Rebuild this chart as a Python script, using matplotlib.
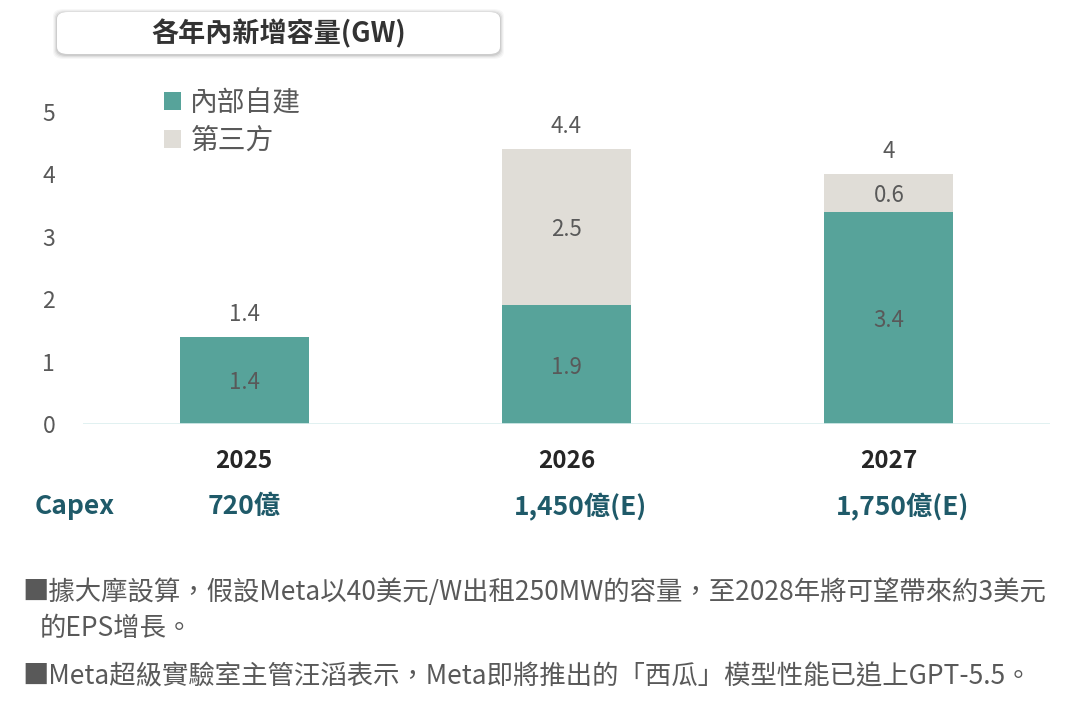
import matplotlib.pyplot as plt
from matplotlib.patches import FancyBboxPatch
import numpy as np

plt.rcParams['font.family'] = ['Noto Sans CJK TC', 'DejaVu Sans']

years = ["2025", "2026", "2027"]
internal = [1.4, 1.9, 3.4]
third_party = [0.0, 2.5, 0.6]
totals = ["1.4", "4.4", "4"]
capex = ["720億", "1,450億(E)", "1,750億(E)"]
series_names = ["內部自建", "第三方"]
title = "各年內新增容量(GW)"
notes = [
    "■據大摩設算，假設Meta以40美元/W出租250MW的容量，至2028年將可望帶來約3美元",
    "的EPS增長。",
    "■Meta超級實驗室主管汪滔表示，Meta即將推出的「西瓜」模型性能已追上GPT-5.5。",
]

W, H = 1077, 718
teal = "#57A39A"
light = "#E0DDD7"
gray = "#595959"
dark_teal = "#1F5A69"

fig = plt.figure(figsize=(W / 100, H / 100), dpi=100)
ax = fig.add_axes([83 / W, 1 - 424 / H, (1050 - 83) / W, 5.5 * 62.4 / H])

x = np.arange(len(years))
ax.bar(x, internal, width=0.4, color=teal, label=series_names[0])
ax.bar(x, third_party, width=0.4, bottom=internal, color=light, label=series_names[1])

for i in range(len(years)):
    ax.text(x[i], internal[i] / 2, f"{internal[i]:g}", ha="center",
            va="center_baseline", fontsize=16, color=gray)
    if third_party[i] > 0:
        ax.text(x[i], internal[i] + third_party[i] / 2, f"{third_party[i]:g}",
                ha="center", va="center_baseline", fontsize=16, color=gray)
    ax.annotate(totals[i], (x[i], internal[i] + third_party[i]), xytext=(0, 8),
                textcoords="offset points", ha="center", va="bottom",
                fontsize=16, color=gray)

ax.set_xlim(-0.5, 2.5)
ax.set_ylim(0, 5.5)
ax.set_yticks(range(6))
ax.tick_params(axis="y", length=0, pad=20, labelsize=16.5, labelcolor=gray)
ax.set_xticks(x)
ax.set_xticklabels(years, fontsize=17.5, fontweight="bold", color="#262626")
ax.tick_params(axis="x", length=0, pad=18)
for s in ax.spines.values():
    s.set_visible(False)
ax.axhline(0, color="#DCEFEF", lw=1.2)

ax.legend(loc="upper left", bbox_to_anchor=(164 / W, 1 - 88 / H),
          bbox_transform=fig.transFigure, frameon=False, fontsize=20,
          labelcolor=gray, handlelength=0.6, handleheight=0.6,
          handletextpad=0.35, labelspacing=0.28, borderpad=0, borderaxespad=0)

# Capex row
fig.text(35 / W, 1 - 507 / H, "Capex", ha="left", va="center", fontsize=19,
         fontweight="bold", color=dark_teal)
for cx, label in zip([244, 580, 903], capex):
    fig.text(cx / W, 1 - 507 / H, label, ha="center", va="center", fontsize=19,
             fontweight="bold", color=dark_teal)

# title box with soft shadow
bx0, by0, bx1, by1 = 57, 12, 500, 54
for k, a in [(4, 0.03), (3, 0.04), (2, 0.06), (1, 0.08)]:
    sh = FancyBboxPatch(((bx0 - k) / W, 1 - (by1 + k + 1) / H),
                        (bx1 - bx0 + 2 * k) / W, (by1 - by0 + 2 * k) / H,
                        boxstyle="round,pad=0,rounding_size=0.01",
                        transform=fig.transFigure, facecolor="black", alpha=a,
                        edgecolor="none", zorder=1)
    fig.patches.append(sh)
box = FancyBboxPatch((bx0 / W, 1 - by1 / H), (bx1 - bx0) / W, (by1 - by0) / H,
                     boxstyle="round,pad=0,rounding_size=0.01",
                     transform=fig.transFigure, facecolor="white",
                     edgecolor="none", zorder=2)
fig.patches.append(box)
fig.text((bx0 + bx1) / 2 / W, 1 - 34 / H, title, ha="center", va="center",
         fontsize=19.5, fontweight="bold", color="#333333", zorder=3)

# notes
fig.text(22 / W, 1 - 592 / H, notes[0], ha="left", va="center", fontsize=19,
         color=gray)
fig.text(40 / W, 1 - 629 / H, notes[1], ha="left", va="center", fontsize=19,
         color=gray)
fig.text(22 / W, 1 - 677 / H, notes[2], ha="left", va="center", fontsize=19,
         color=gray)

fig.savefig("out.png", dpi=100)
